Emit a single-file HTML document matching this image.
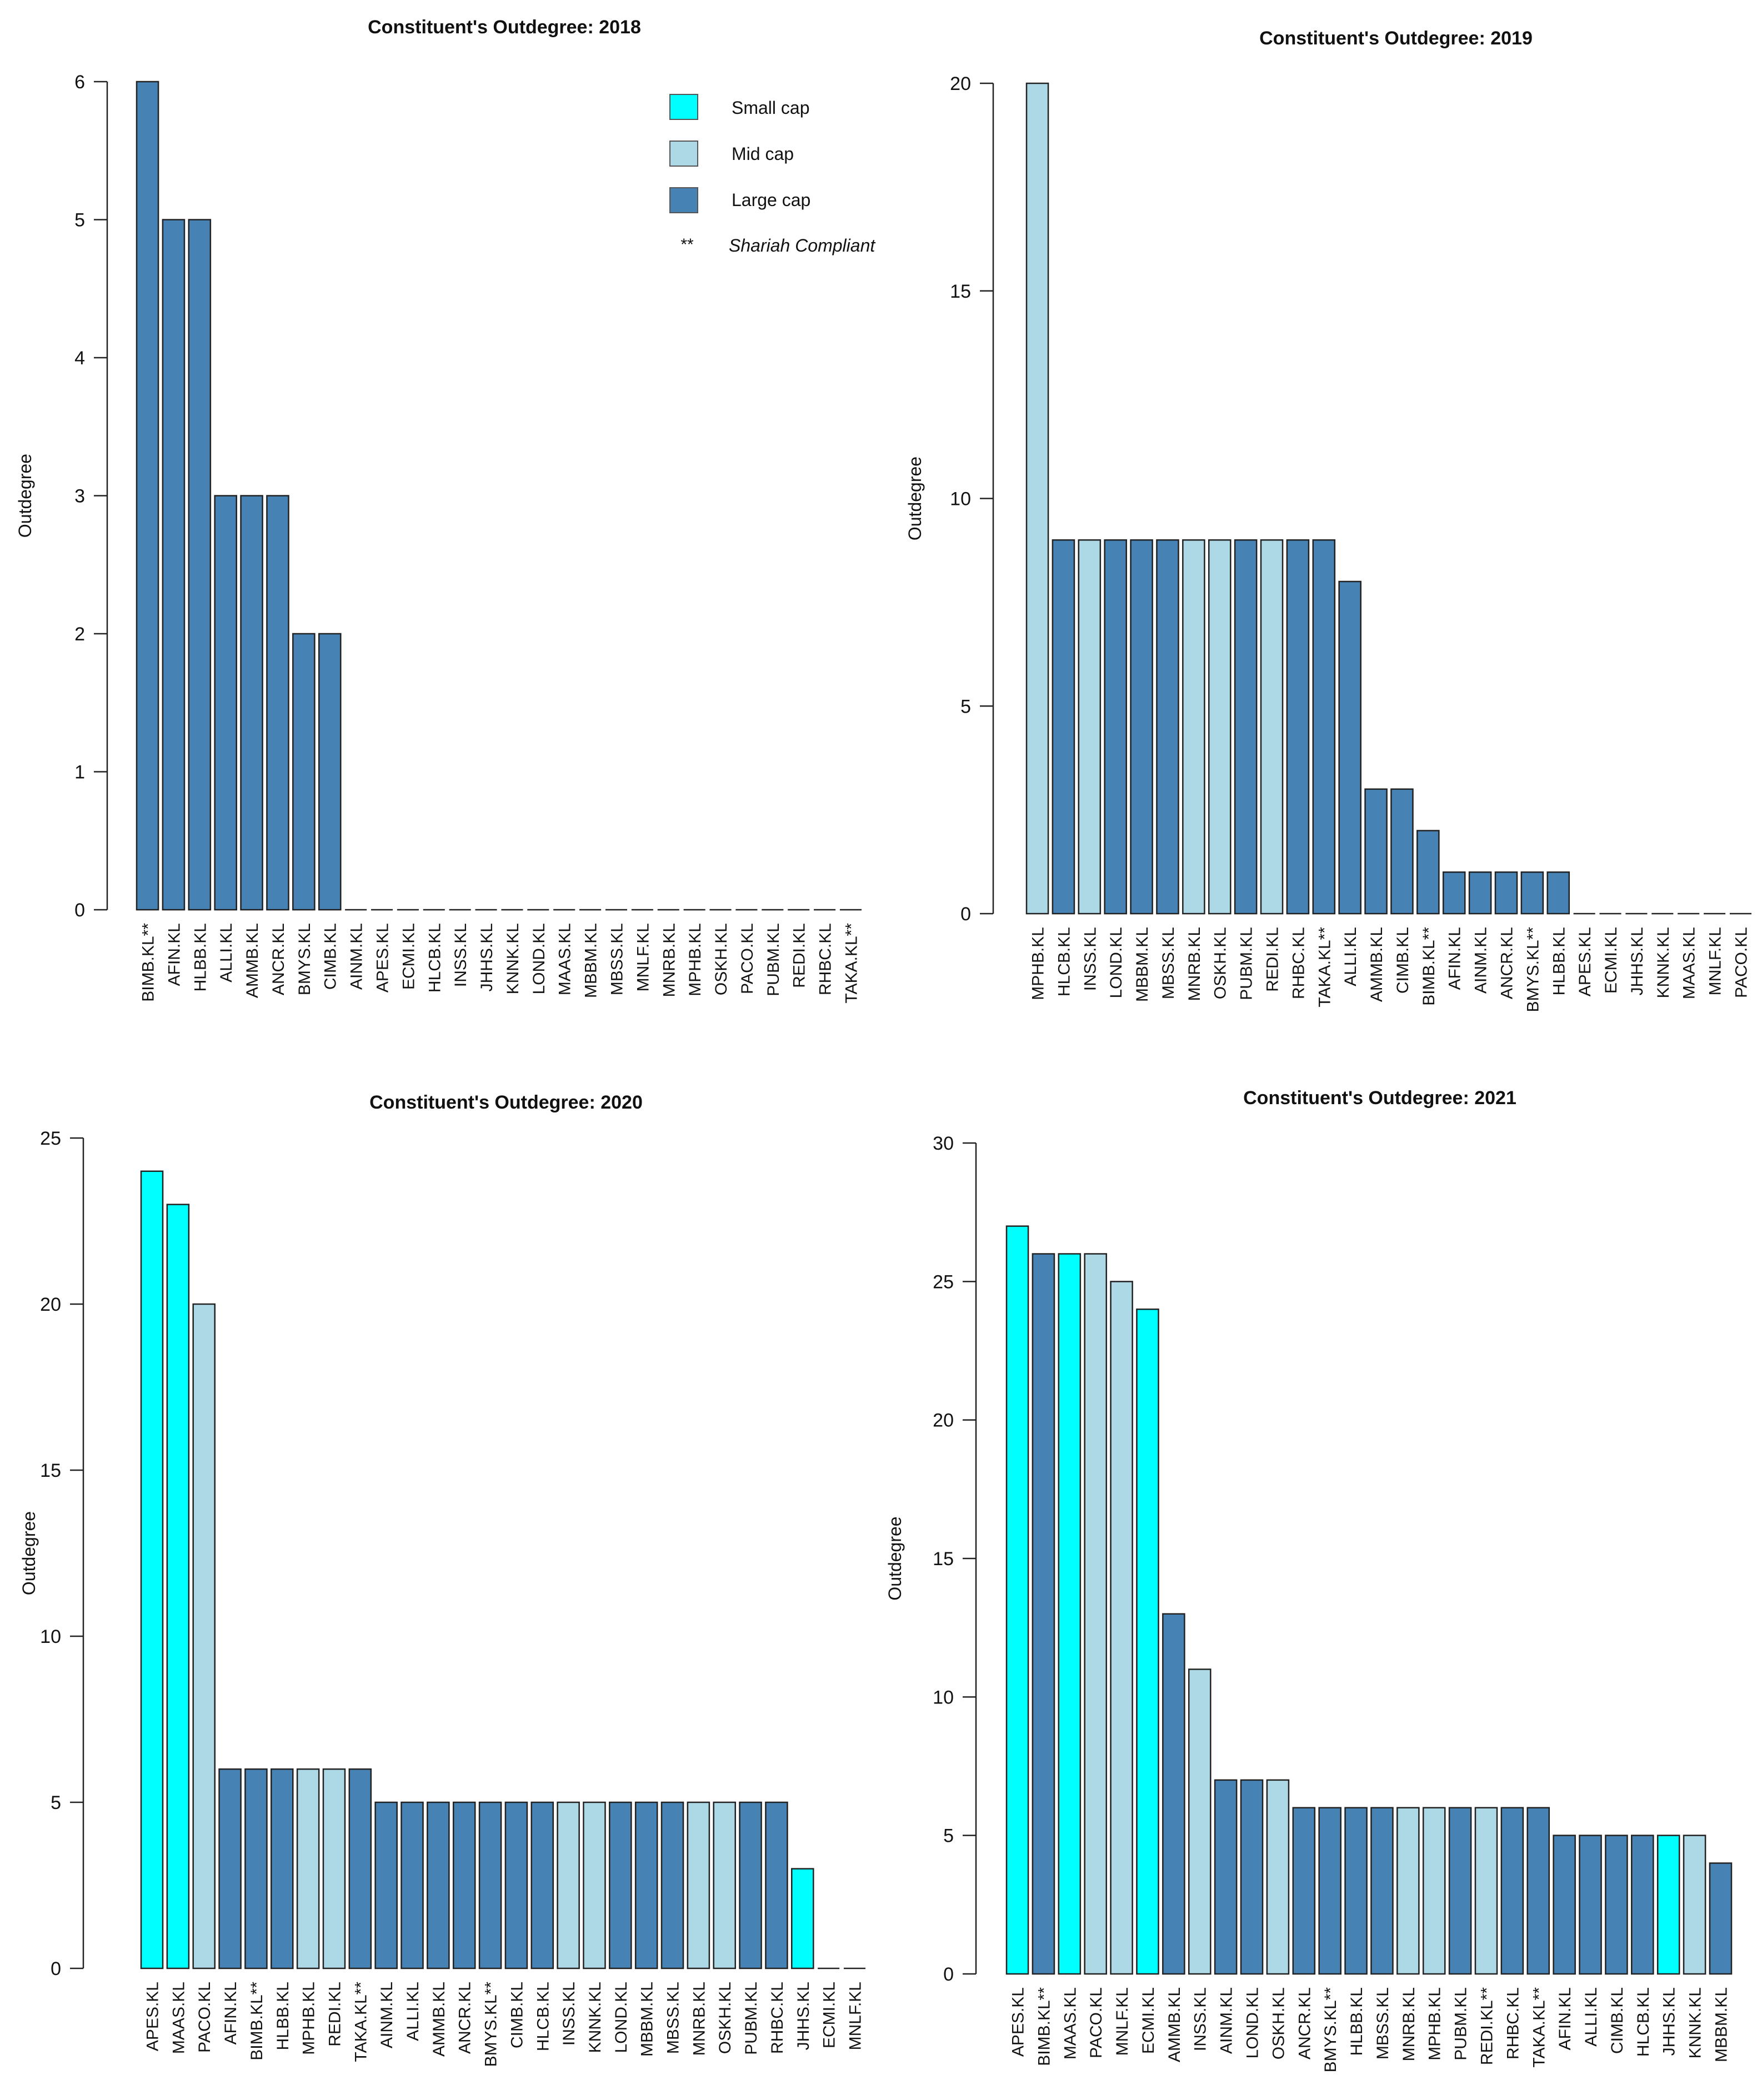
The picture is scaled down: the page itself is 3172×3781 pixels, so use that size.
<!DOCTYPE html>
<html><head><meta charset="utf-8"><title>Constituent's Outdegree</title>
<style>html,body{margin:0;padding:0;background:#fff}svg{display:block}text{font-family:"Liberation Sans",Arial,sans-serif;fill:#111}</style>
</head><body>
<svg id="chart" xmlns="http://www.w3.org/2000/svg" width="3172" height="3781" viewBox="0 0 3172 3781">
<rect width="3172" height="3781" fill="#fff"/>
<g>
  <rect x="1206" y="170" width="50" height="45" fill="#00FFFF" stroke="#555" stroke-width="2"/>
  <text x="1317" y="205" font-size="32">Small cap</text>
  <rect x="1206" y="254" width="50" height="45" fill="#ADD8E6" stroke="#555" stroke-width="2"/>
  <text x="1317" y="288" font-size="32">Mid cap</text>
  <rect x="1206" y="338" width="50" height="45" fill="#4682B4" stroke="#555" stroke-width="2"/>
  <text x="1317" y="371" font-size="32">Large cap</text>
  <text x="1237" y="450" font-size="30" text-anchor="middle">**</text>
  <text x="1312" y="453" font-size="32" font-style="italic">Shariah Compliant</text>
</g>
</svg>
<script>
const labels2018 = ["BIMB.KL**","AFIN.KL","HLBB.KL","ALLI.KL","AMMB.KL","ANCR.KL","BMYS.KL","CIMB.KL","AINM.KL","APES.KL","ECMI.KL","HLCB.KL","INSS.KL","JHHS.KL","KNNK.KL","LOND.KL","MAAS.KL","MBBM.KL","MBSS.KL","MNLF.KL","MNRB.KL","MPHB.KL","OSKH.KL","PACO.KL","PUBM.KL","REDI.KL","RHBC.KL","TAKA.KL**"];
const values2018 = [6,5,5,3,3,3,2,2,0,0,0,0,0,0,0,0,0,0,0,0,0,0,0,0,0,0,0,0];
const caps2018 = ["L","L","L","L","L","L","L","L","L","S","S","L","M","S","M","L","S","L","L","M","M","M","M","M","L","M","L","L"];
const ticks2018 = [0,1,2,3,4,5,6];

const labels2019 = ["MPHB.KL","HLCB.KL","INSS.KL","LOND.KL","MBBM.KL","MBSS.KL","MNRB.KL","OSKH.KL","PUBM.KL","REDI.KL","RHBC.KL","TAKA.KL**","ALLI.KL","AMMB.KL","CIMB.KL","BIMB.KL**","AFIN.KL","AINM.KL","ANCR.KL","BMYS.KL**","HLBB.KL","APES.KL","ECMI.KL","JHHS.KL","KNNK.KL","MAAS.KL","MNLF.KL","PACO.KL"];
const values2019 = [20,9,9,9,9,9,9,9,9,9,9,9,8,3,3,2,1,1,1,1,1,0,0,0,0,0,0,0];
const caps2019 = ["M","L","M","L","L","L","M","M","L","M","L","L","L","L","L","L","L","L","L","L","L","S","S","S","M","S","M","M"];
const ticks2019 = [0,5,10,15,20];

const labels2020 = ["APES.KL","MAAS.KL","PACO.KL","AFIN.KL","BIMB.KL**","HLBB.KL","MPHB.KL","REDI.KL","TAKA.KL**","AINM.KL","ALLI.KL","AMMB.KL","ANCR.KL","BMYS.KL**","CIMB.KL","HLCB.KL","INSS.KL","KNNK.KL","LOND.KL","MBBM.KL","MBSS.KL","MNRB.KL","OSKH.KL","PUBM.KL","RHBC.KL","JHHS.KL","ECMI.KL","MNLF.KL"];
const values2020 = [24,23,20,6,6,6,6,6,6,5,5,5,5,5,5,5,5,5,5,5,5,5,5,5,5,3,0,0];
const caps2020 = ["S","S","M","L","L","L","M","M","L","L","L","L","L","L","L","L","M","M","L","L","L","M","M","L","L","S","S","M"];
const ticks2020 = [0,5,10,15,20,25];

const labels2021 = ["APES.KL","BIMB.KL**","MAAS.KL","PACO.KL","MNLF.KL","ECMI.KL","AMMB.KL","INSS.KL","AINM.KL","LOND.KL","OSKH.KL","ANCR.KL","BMYS.KL**","HLBB.KL","MBSS.KL","MNRB.KL","MPHB.KL","PUBM.KL","REDI.KL**","RHBC.KL","TAKA.KL**","AFIN.KL","ALLI.KL","CIMB.KL","HLCB.KL","JHHS.KL","KNNK.KL","MBBM.KL"];
const values2021 = [27,26,26,26,25,24,13,11,7,7,7,6,6,6,6,6,6,6,6,6,6,5,5,5,5,5,5,4];
const caps2021 = ["S","L","S","M","M","S","L","M","L","L","M","L","L","L","L","M","M","L","M","L","L","L","L","L","L","S","M","L"];
const ticks2021 = [0,5,10,15,20,25,30];

const NS = "http://www.w3.org/2000/svg";
const svg = document.getElementById("chart");
const COLORS = {S:"#00FFFF", M:"#ADD8E6", L:"#4682B4"};
function mk(tag, attrs, parent){const e=document.createElementNS(NS,tag);for(const k in attrs)e.setAttribute(k,attrs[k]);(parent||svg).appendChild(e);return e;}

function drawPanel(year, labels, values, caps, ticks, P){
  const g = mk("g",{});
  
  
  const yMax = ticks[ticks.length-1];
  const yScale = v => P.y0 - (P.y0 - P.yTop) * v / yMax;
  const n = labels.length;
  const w = (P.right - P.left) / (n + (n-1)*0.2);
  const xLeft = i => P.left + i*w*1.2;

  const t = mk("text",{x:P.titleX,y:P.titleY,"font-size":34,"font-weight":"bold","text-anchor":"middle"},g);
  t.textContent = "Constituent's Outdegree: " + year;
  
  

  const yl = mk("text",{transform:`translate(${P.ylabX},${(P.y0+P.yTop)/2}) rotate(-90)`,"font-size":32,"text-anchor":"middle"},g);
  yl.textContent = "Outdegree";
  
  

  const ax = mk("g",{},g);
  
  
  mk("line",{x1:P.axisX,x2:P.axisX,y1:yScale(0),y2:yScale(yMax),stroke:"#222","stroke-width":2.5},ax);
  ticks.forEach(v=>{
    const y=yScale(v);
    mk("line",{x1:P.axisX-24,x2:P.axisX,y1:y,y2:y,stroke:"#222","stroke-width":2.5},ax);
    const tl=mk("text",{x:P.axisX-40,y:y+12,"font-size":34,"text-anchor":"end"},ax);
    tl.textContent=v;
    
    
  });

  labels.forEach((lab,i)=>{
    const x=xLeft(i), y=yScale(values[i]), yb=yScale(0);
    const b=mk("path",{d:`M${x},${yb}V${y}H${x+w}V${yb}Z`,fill:COLORS[caps[i]],stroke:"#222","stroke-width":2.5},g);
    
    
    const cx=x+w/2+11;
    const tx=mk("text",{transform:`translate(${cx},${yb+24}) rotate(-90)`,"font-size":30,"text-anchor":"end"},g);
    tx.textContent=lab;
    
    
  });
}

drawPanel(2018, labels2018, values2018, caps2018, ticks2018,
  {axisX:193, yTop:147, y0:1638, left:246, right:1551, titleX:908, titleY:60, ylabX:56});
drawPanel(2019, labels2019, values2019, caps2019, ticks2019,
  {axisX:1788, yTop:150, y0:1645, left:1848, right:3153, titleX:2513, titleY:80, ylabX:1658});
drawPanel(2020, labels2020, values2020, caps2020, ticks2020,
  {axisX:150, yTop:2049, y0:3544, left:254, right:1558, titleX:911, titleY:1996, ylabX:63});
drawPanel(2021, labels2021, values2021, caps2021, ticks2021,
  {axisX:1757, yTop:2058, y0:3554, left:1812, right:3117, titleX:2484, titleY:1988, ylabX:1622});
</script>
</body></html>
